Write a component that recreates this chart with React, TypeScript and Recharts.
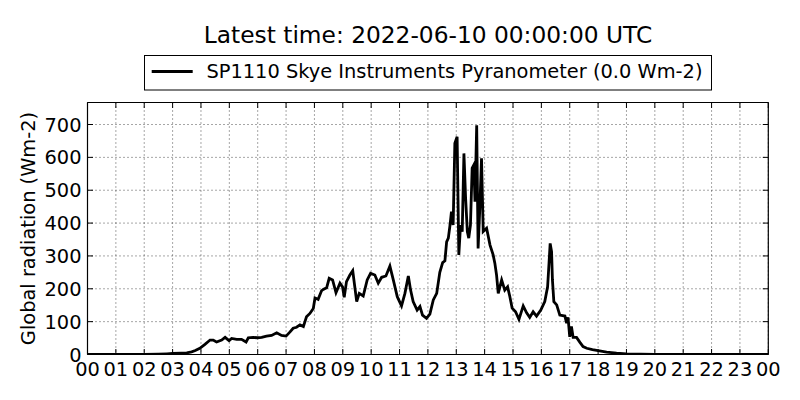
import React from 'react';
import { LineChart, Line, XAxis, YAxis, CartesianGrid } from 'recharts';

const hours = [
  0, 0.5, 1, 1.5, 2, 2.5, 2.8, 3, 3.3, 3.5, 3.67, 3.8, 3.96, 4.14, 4.32, 4.43, 4.55, 4.73, 4.85, 4.99,
  5.08, 5.26, 5.43, 5.59, 5.67, 5.84, 5.99, 6.14, 6.31, 6.49, 6.67, 6.84, 7.0, 7.14, 7.25, 7.37, 7.49, 7.61,
  7.72, 7.84, 7.96, 8.02, 8.13, 8.25, 8.31, 8.43, 8.52, 8.64, 8.76, 8.9, 8.99, 9.05, 9.13, 9.25, 9.35,
  9.49, 9.58, 9.72, 9.86, 9.98, 10.13, 10.25, 10.37, 10.52, 10.66, 10.78, 10.92, 11.07, 11.19, 11.31,
  11.39, 11.48, 11.62, 11.72, 11.81, 11.95, 12.07, 12.19, 12.31, 12.42, 12.52, 12.6, 12.66, 12.72, 12.78,
  12.83, 12.89, 12.95, 13.03, 13.09, 13.15, 13.21, 13.27, 13.33, 13.39, 13.44, 13.5, 13.56, 13.62, 13.66,
  13.72, 13.77, 13.83, 13.89, 13.95, 14.07, 14.19, 14.3, 14.36, 14.42, 14.48, 14.6, 14.71, 14.81, 14.89,
  14.97, 15.09, 15.21, 15.36, 15.48, 15.59, 15.71, 15.83, 15.98, 16.12, 16.22, 16.27, 16.31, 16.36, 16.39,
  16.44, 16.54, 16.65, 16.83, 16.89, 16.94, 17.0, 17.06, 17.12, 17.24, 17.36, 17.47, 17.6, 17.8, 18.0,
  18.3, 18.65, 19.0, 19.5, 20, 21, 22, 23, 24,
];

const radiation = [
  0, 0, 0, 0, 0, 1, 2, 3, 4, 5, 8, 12, 19, 31, 44, 44, 38, 44, 52, 42,
  49, 46, 46, 38, 51, 52, 51, 52, 56, 58, 66, 58, 56, 69, 80, 83, 90, 85,
  115, 125, 140, 172, 168, 194, 198, 203, 232, 227, 188, 217, 206, 174, 222, 242, 255,
  161, 186, 178, 227, 247, 242, 217, 235, 239, 269, 227, 176, 148, 186, 239,
  196, 161, 135, 146, 120, 110, 123, 166, 186, 250, 280, 285, 343, 354, 394,
  435, 394, 643, 663, 303, 394, 374, 612, 475, 374, 354, 394, 567, 577, 465,
  698, 323, 445, 597, 374, 384, 333, 303, 278, 242, 186, 227, 196, 206, 176,
  141, 130, 107, 148, 127, 113, 130, 117, 135, 161, 206, 278, 338, 313, 227,
  161, 151, 120, 117, 95, 113, 54, 85, 52, 52, 37, 24, 19, 15, 12,
  7, 4, 2, 1, 0, 0, 0, 0, 0,
];

const xTicks = [0, 1, 2, 3, 4, 5, 6, 7, 8, 9, 10, 11, 12, 13, 14, 15, 16, 17, 18, 19, 20, 21, 22, 23, 24];
const yTicks = [0, 100, 200, 300, 400, 500, 600, 700];
const yMax = 767;

const titleText = 'Latest time: 2022-06-10 00:00:00 UTC';
const seriesName = 'SP1110 Skye Instruments Pyranometer (0.0 Wm-2)';
const yLabelText = 'Global radiation (Wm-2)';

const data = hours.map((h, i) => ({ h, v: radiation[i] }));

const FONT = '"DejaVu Sans", sans-serif';
const TICK_LEN = 5.5;
const TICK_FONT = 19.4;

const fmtHour = (h: number) => String(Math.round(h) % 24).padStart(2, '0');

const BottomTick = (props: any) => {
  const { x, y, payload } = props;
  return (
    <g>
      <line x1={x} y1={y} x2={x} y2={y - TICK_LEN} stroke="#000" strokeWidth={1} />
      <text x={x} y={y + 21.2} textAnchor="middle" fontSize={TICK_FONT} fontFamily={FONT} fill="#000">
        {fmtHour(payload.value)}
      </text>
    </g>
  );
};

const TopTick = (props: any) => {
  const { x, y } = props;
  return <line x1={x} y1={y} x2={x} y2={y + TICK_LEN} stroke="#000" strokeWidth={1} />;
};

const LeftTick = (props: any) => {
  const { x, y, payload } = props;
  return (
    <g>
      <line x1={x} y1={y} x2={x + TICK_LEN} y2={y} stroke="#000" strokeWidth={1} />
      <text x={x - 6} y={y + 7.1} textAnchor="end" fontSize={TICK_FONT} fontFamily={FONT} fill="#000">
        {payload.value}
      </text>
    </g>
  );
};

const RightTick = (props: any) => {
  const { x, y } = props;
  return <line x1={x} y1={y} x2={x - TICK_LEN} y2={y} stroke="#000" strokeWidth={1} />;
};

export default function App() {
  return (
    <div style={{ position: 'absolute', left: 0, top: 0, width: 800, height: 400, background: '#fff' }}>
      <LineChart
        width={800}
        height={400}
        data={data}
        margin={{ top: 101.5, right: 30.7, bottom: 0, left: 0 }}
      >
        <CartesianGrid stroke="#000" strokeWidth={0.7} strokeDasharray="1 3" />
        <XAxis
          dataKey="h"
          type="number"
          domain={[0, 24]}
          ticks={xTicks}
          interval={0}
          allowDataOverflow
          height={45.5}
          tickSize={0}
          tickMargin={0}
          tickLine={false}
          axisLine={{ stroke: '#000', strokeWidth: 1.2 }}
          tick={<BottomTick />}
        />
        <XAxis
          xAxisId="top"
          orientation="top"
          dataKey="h"
          type="number"
          domain={[0, 24]}
          ticks={xTicks}
          interval={0}
          allowDataOverflow
          height={1}
          tickSize={0}
          tickMargin={0}
          tickLine={false}
          axisLine={{ stroke: '#000', strokeWidth: 1.2 }}
          tick={<TopTick />}
        />
        <YAxis
          dataKey="v"
          type="number"
          domain={[0, yMax]}
          ticks={yTicks}
          interval={0}
          allowDataOverflow
          width={87.5}
          tickSize={0}
          tickMargin={0}
          tickLine={false}
          axisLine={{ stroke: '#000', strokeWidth: 1.2 }}
          tick={<LeftTick />}
        />
        <YAxis
          yAxisId="right"
          orientation="right"
          dataKey="v"
          type="number"
          domain={[0, yMax]}
          ticks={yTicks}
          interval={0}
          allowDataOverflow
          width={1}
          tickSize={0}
          tickMargin={0}
          tickLine={false}
          axisLine={{ stroke: '#000', strokeWidth: 1.2 }}
          tick={<RightTick />}
        />
        <Line
          type="linear"
          dataKey="v"
          name={seriesName}
          stroke="#000"
          strokeWidth={2.8}
          dot={false}
          activeDot={false}
          isAnimationActive={false}
        />
      </LineChart>
      <svg
        width={800}
        height={400}
        style={{ position: 'absolute', left: 0, top: 0, pointerEvents: 'none' }}
      >
        <text x={428} y={42.7} textAnchor="middle" fontSize={23.3} fontFamily={FONT} fill="#000">
          {titleText}
        </text>
        <rect x={144.5} y={55.5} width={567} height={34.5} fill="#fff" stroke="#000" strokeWidth={1} />
        <line x1={151.7} y1={71.5} x2={192.7} y2={71.5} stroke="#000" strokeWidth={2.8} />
        <text x={206.4} y={78.3} fontSize={19.4} fontFamily={FONT} fill="#000">
          {seriesName}
        </text>
        <text
          transform="translate(35,228.5) rotate(-90)"
          textAnchor="middle"
          fontSize={19.4}
          fontFamily={FONT}
          fill="#000"
        >
          {yLabelText}
        </text>
      </svg>
    </div>
  );
}
